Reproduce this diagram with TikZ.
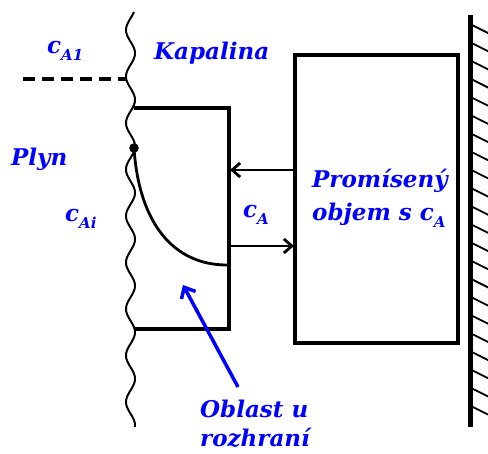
\documentclass[tikz,border=0pt]{standalone}
\usepackage{fontspec}
\setmainfont{DejaVu Serif}
\usetikzlibrary{arrows.meta}
\newcommand{\subsc}[1]{\raisebox{-7pt}{\fontsize{15}{15}\selectfont #1}}
\begin{document}
\begin{tikzpicture}[x=1pt,y=-1pt,
  lbl/.style={text=blue, font=\bfseries\itshape\fontsize{23}{27}\selectfont, inner sep=0pt, anchor=base west},
  thick line/.style={line width=3.5pt, line join=miter},
  flux/.style={line width=2.8pt, -{Straight Barb[length=8pt,width=14pt]}},
  pointer/.style={line width=3.5pt, blue, -{Straight Barb[length=9pt,width=16pt]}},
  hatch/.style={line width=1.8pt}]
\useasboundingbox (0,0) rectangle (488,454);

% interface (wavy line)
\draw[line width=2pt] plot[domain=12:427, samples=300, smooth, variable=\t]
  ({130.5-4.5*cos(7.742*(\t-30))},\t);

% dashed level line
\coordinate (d1) at (23,79);
\coordinate (d2) at (127,79);
\draw[line width=3.2pt, dash pattern=on 12pt off 7pt] (d1) -- (d2);

% interface region box
\coordinate (b1) at (134,108);
\coordinate (b2) at (229,108);
\coordinate (b3) at (229,329);
\coordinate (b4) at (134,329);
\draw[thick line] (b1) -- (b2) -- (b3) -- (b4);

% concentration profile
\coordinate (p0) at (134,148);
\coordinate (p1) at (227,265);
\draw[line width=2.8pt] (p0) .. controls (139,224) and (174,265) .. (p1);
\fill (p0) circle (4.8pt);

% mixed volume box
\node[draw, line width=4pt, minimum width=163pt, minimum height=288pt, inner sep=0pt] (big) at (376.5,199) {};

% flux arrows
\coordinate (u1) at (295,170);
\coordinate (u2) at (230,170);
\coordinate (l1) at (229,246);
\coordinate (l2) at (294,246);
\draw[flux] (u1) -- (u2);
\draw[flux] (l1) -- (l2);

% wall
\coordinate (w1) at (470.7,15);
\coordinate (w2) at (470.7,427);
\draw[line width=4.5pt] (w1) -- (w2);
\foreach \k in {0,...,21}
  \draw[hatch] (472,25+18.17*\k) -- (489,33.5+18.17*\k);

% pointer arrow
\coordinate (a1) at (238,387);
\coordinate (a2) at (183,285);
\draw[pointer] (a1) -- (a2);

% labels
\node[lbl] (cA1) at (47,54) {c\subsc{A1}};
\node[lbl] (kap) at (154,60) {Kapalina};
\node[lbl] (plyn) at (11,166) {Plyn};
\node[lbl] (cAi) at (65,222) {c\subsc{Ai}};
\node[lbl] (cA) at (243,218) {c\subsc{A}};
\node[lbl] (prom) at (312,188) {Promísený};
\node[lbl] (obj) at (312,221) {objem s c\subsc{A}};
\node[lbl] (obl) at (200,418) {Oblast u};
\node[lbl] (roz) at (200,447) {rozhraní};
\end{tikzpicture}
\end{document}
